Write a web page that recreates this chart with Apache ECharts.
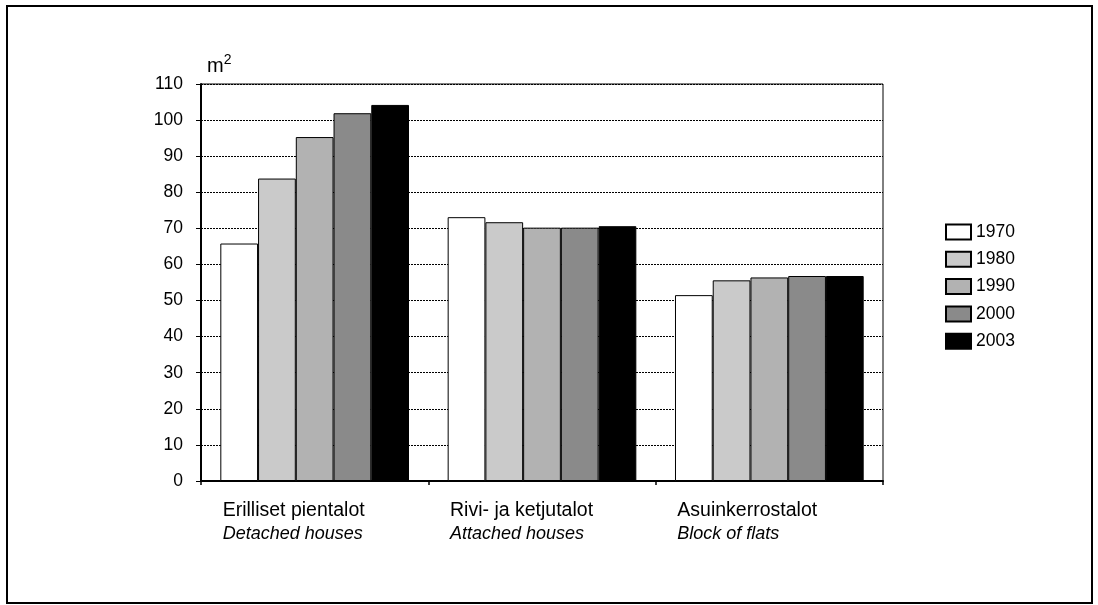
<!DOCTYPE html>
<html>
<head>
<meta charset="utf-8">
<script src="https://cdn.jsdelivr.net/npm/echarts@6/dist/echarts.min.js"></script>
<style>
html,body{margin:0;padding:0;background:#fff;}
#c{width:1098px;height:605px;}
</style>
</head>
<body>
<div id="c"></div>
<script>
var categoriesFi = ['Erilliset pientalot', 'Rivi- ja ketjutalot', 'Asuinkerrostalot'];
var categoriesEn = ['Detached houses', 'Attached houses', 'Block of flats'];
var years = ['1970', '1980', '1990', '2000', '2003'];
var v1970 = [65.8, 73.1, 51.5];
var v1980 = [83.8, 71.7, 55.6];
var v1990 = [95.3, 70.2, 56.4];
var v2000 = [101.9, 70.2, 56.8];
var v2003 = [104.2, 70.6, 56.8];
var yTicks = [0, 10, 20, 30, 40, 50, 60, 70, 80, 90, 100, 110];

var seriesValues = [v1970, v1980, v1990, v2000, v2003];
var fills = ['#ffffff', '#cacaca', '#b2b2b2', '#8a8a8a', '#000000'];
var font = '"Liberation Sans", Arial, sans-serif';

var chart = echarts.init(document.getElementById('c'));
var series = years.map(function (y, i) {
  return {
    name: y,
    type: 'bar',
    data: seriesValues[i],
    barGap: '0%',
    barCategoryGap: '17%',
    itemStyle: { color: fills[i], borderColor: '#000', borderWidth: 1 }
  };
});

chart.setOption({
  animation: false,
  backgroundColor: '#fff',
  textStyle: { fontFamily: font },
  graphic: [{
    type: 'rect',
    shape: { x: 7, y: 6, width: 1085, height: 597 },
    style: { fill: 'none', stroke: '#000', lineWidth: 2 },
    silent: true
  }],
  grid: { left: 201, right: 215, top: 84, bottom: 124, show: true, borderColor: '#000', borderWidth: 1 },
  legend: {
    orient: 'vertical',
    left: 940,
    top: 218,
    icon: 'rect',
    itemWidth: 25,
    itemHeight: 15,
    itemGap: 9.3,
    textStyle: { fontSize: 17.5, color: '#000', fontFamily: font },
    data: years
  },
  xAxis: {
    type: 'category',
    data: categoriesFi,
    axisLine: { lineStyle: { color: '#000', width: 2 } },
    axisTick: { show: true, length: 4, lineStyle: { color: '#000', width: 1.5 } },
    axisLabel: {
      margin: 18,
      interval: 0,
      formatter: function (v, idx) {
        return '{a|' + v + '}\n{b|' + categoriesEn[idx] + '}';
      },
      rich: {
        a: { fontSize: 19.5, color: '#000', width: 184, align: 'left', fontFamily: font, lineHeight: 23 },
        b: { fontSize: 18, color: '#000', width: 184, align: 'left', fontStyle: 'italic', fontFamily: font, lineHeight: 23 }
      }
    }
  },
  yAxis: {
    type: 'value',
    min: yTicks[0],
    max: yTicks[yTicks.length - 1],
    interval: 10,
    name: 'm{s|2}',
    nameLocation: 'end',
    nameGap: 5,
    nameTextStyle: {
      align: 'left',
      fontSize: 20,
      color: '#000',
      fontFamily: font,
      padding: [0, 0, 0, 6],
      rich: { s: { fontSize: 14, verticalAlign: 'top', padding: [0, 0, 12, 0], color: '#000', fontFamily: font } }
    },
    axisLine: { show: true, lineStyle: { color: '#000', width: 2 } },
    axisTick: { show: true, length: 5, lineStyle: { color: '#000' } },
    axisLabel: { fontSize: 17.5, color: '#000', margin: 18, fontFamily: font },
    splitLine: { show: true, lineStyle: { color: '#000', width: 1, type: [2, 1] } }
  },
  series: series
});
</script>
</body>
</html>
